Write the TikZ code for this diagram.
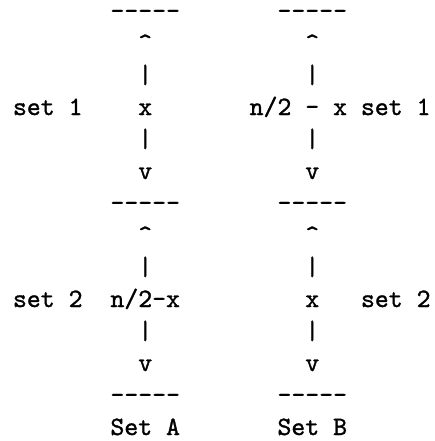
\documentclass[tikz,border=0pt]{standalone}
\usepackage{fontspec}
% Latin Modern Mono, slightly emboldened
\newfontfamily\gridfont[FakeBold=1.2]{lmmono10-regular.otf}
\newcommand\dashrow{-{}-{}-{}-{}-}
\begin{document}
\begin{tikzpicture}[x=1pt,y=1pt,
  mono/.style={font=\fontsize{26.5}{32}\selectfont\gridfont, inner sep=0pt, anchor=base west},
]
\useasboundingbox (0,0) rectangle (434,-441);
% character grid: column width and origin, line pitch
\def\cw{13.92}
\def\xo{12.8}
\def\lp{32}
\def\yo{19}
\newcommand\at[2]{(\xo+#1*\cw, -\yo-#2*\lp)}
% column A (character column 9) and column B (character column 21)
\node[mono] (topA)  at \at{7}{0}  {\dashrow};
\node[mono] (topB)  at \at{19}{0} {\dashrow};
\node[mono] (upA1)  at \at{9}{1}  {\^{}};
\node[mono] (upB1)  at \at{21}{1} {\^{}};
\node[mono] (barA1) at \at{9}{2}  {|};
\node[mono] (barB1) at \at{21}{2} {|};
\node[mono] (setA1) at \at{0}{3}  {set 1};
\node[mono] (xA1)   at \at{9}{3}  {x};
\node[mono] (xB1)   at \at{17}{3} {n/2 - x set 1};
\node[mono] (barA2) at \at{9}{4}  {|};
\node[mono] (barB2) at \at{21}{4} {|};
\node[mono] (dnA1)  at \at{9}{5}  {v};
\node[mono] (dnB1)  at \at{21}{5} {v};
\node[mono] (midA)  at \at{7}{6}  {\dashrow};
\node[mono] (midB)  at \at{19}{6} {\dashrow};
\node[mono] (upA2)  at \at{9}{7}  {\^{}};
\node[mono] (upB2)  at \at{21}{7} {\^{}};
\node[mono] (barA3) at \at{9}{8}  {|};
\node[mono] (barB3) at \at{21}{8} {|};
\node[mono] (setA2) at \at{0}{9}  {set 2};
\node[mono] (xA2)   at \at{7}{9}  {n/2-x};
\node[mono] (xB2)   at \at{21}{9} {x};
\node[mono] (setB2) at \at{25}{9} {set 2};
\node[mono] (barA4) at \at{9}{10} {|};
\node[mono] (barB4) at \at{21}{10} {|};
\node[mono] (dnA2)  at \at{9}{11} {v};
\node[mono] (dnB2)  at \at{21}{11} {v};
\node[mono] (botA)  at \at{7}{12} {\dashrow};
\node[mono] (botB)  at \at{19}{12} {\dashrow};
\node[mono] (nameA) at \at{7}{13} {Set A};
\node[mono] (nameB) at \at{19}{13} {Set B};
\end{tikzpicture}
\end{document}
